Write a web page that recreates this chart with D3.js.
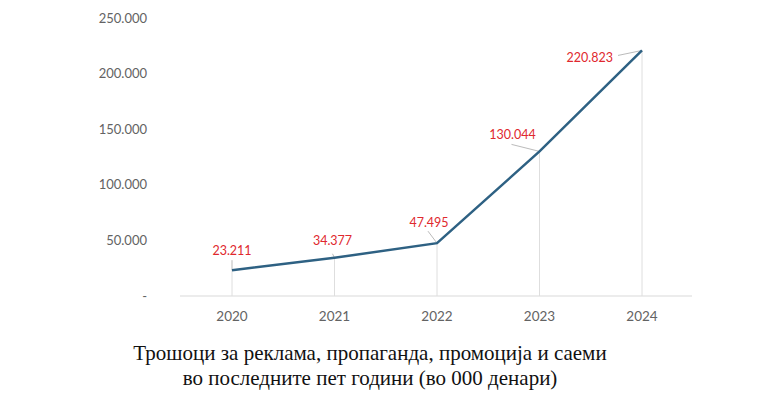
<!DOCTYPE html>
<html>
<head>
<meta charset="utf-8">
<script src="https://cdn.jsdelivr.net/npm/d3@7"></script>
<style>
  body { margin: 0; background: #fff; }
  svg { display: block; }
</style>
</head>
<body>
<div id="chart"></div>
<script>
// data (in 000 denars)
const years = ["2020", "2021", "2022", "2023", "2024"];
const values = [23211, 34377, 47495, 130044, 220823];
const yTicks = [0, 50000, 100000, 150000, 200000, 250000];
const titleLines = [
  "Трошоци за реклама, пропаганда, промоција и саеми",
  "во последните пет години (во 000 денари)"
];
// label offsets relative to each point
const labelPos = [
  { dx: 0, dy: -20, anchor: "middle", lead: [0, -10] },
  { dx: -2, dy: -17, anchor: "middle", lead: [-2, -4] },
  { dx: -8, dy: -21, anchor: "middle", lead: [-9, -12] },
  { dx: -27, dy: -17, anchor: "middle", lead: [-28, -7] },
  { dx: -29, dy: 7, anchor: "end", lead: [-24, 5] }
];

const width = 774, height = 399;

const svg = d3.select("#chart").append("svg")
  .attr("width", width)
  .attr("height", height);

const x = d3.scalePoint()
  .domain(years)
  .range([232, 642]);

const y = d3.scaleLinear()
  .domain([0, 250000])
  .range([296, 18]);

const fmt = (d) => d === 0 ? "-" : d3.format(",")(d).replace(/,/g, ".");

// y labels (no axis line)
svg.append("g")
  .selectAll("text")
  .data(yTicks)
  .join("text")
  .attr("x", 147)
  .attr("y", (d) => y(d))
  .attr("dy", "0.35em")
  .attr("text-anchor", "end")
  .attr("fill", "#636363")
  .style("font", "13px Lato, sans-serif")
  .text(fmt);

// baseline
svg.append("line")
  .attr("x1", 180).attr("x2", 692)
  .attr("y1", y(0)).attr("y2", y(0))
  .attr("stroke", "#d9d9d9")
  .attr("stroke-width", 1);

const pts = years.map((yr, i) => ({ year: yr, value: values[i], p: labelPos[i] }));

// vertical drop lines
svg.append("g")
  .selectAll("line")
  .data(pts)
  .join("line")
  .attr("x1", (d) => x(d.year)).attr("x2", (d) => x(d.year))
  .attr("y1", y(0))
  .attr("y2", (d) => y(d.value))
  .attr("stroke", "#dedede")
  .attr("stroke-width", 1);

// x labels
svg.append("g")
  .selectAll("text")
  .data(years)
  .join("text")
  .attr("x", (d) => x(d))
  .attr("y", 316)
  .attr("dy", "0.35em")
  .attr("text-anchor", "middle")
  .attr("fill", "#636363")
  .style("font", "13.5px Lato, sans-serif")
  .text((d) => d);

// leader lines
svg.append("g")
  .selectAll("line")
  .data(pts)
  .join("line")
  .attr("x1", (d) => x(d.year) + d.p.lead[0])
  .attr("y1", (d) => y(d.value) + d.p.lead[1])
  .attr("x2", (d) => x(d.year))
  .attr("y2", (d) => y(d.value))
  .attr("stroke", "#bbb")
  .attr("stroke-width", 1);

// the line
svg.append("path")
  .datum(pts)
  .attr("fill", "none")
  .attr("stroke", "#2e6183")
  .attr("stroke-width", 2.5)
  .attr("d", d3.line().x((d) => x(d.year)).y((d) => y(d.value)));

// value labels
svg.append("g")
  .selectAll("text")
  .data(pts)
  .join("text")
  .attr("x", (d) => x(d.year) + d.p.dx)
  .attr("y", (d) => y(d.value) + d.p.dy)
  .attr("dy", "0.35em")
  .attr("text-anchor", (d) => d.p.anchor)
  .attr("fill", "#e0282e")
  .style("font", "12.5px Lato, sans-serif")
  .text((d) => fmt(d.value));

// title
svg.append("g")
  .selectAll("text")
  .data(titleLines)
  .join("text")
  .attr("x", 370)
  .attr("y", (d, i) => 353 + i * 25)
  .attr("dy", "0.35em")
  .attr("text-anchor", "middle")
  .attr("fill", "#111")
  .style("font", "21px 'Liberation Serif', serif")
  .text((d) => d);
</script>
</body>
</html>
